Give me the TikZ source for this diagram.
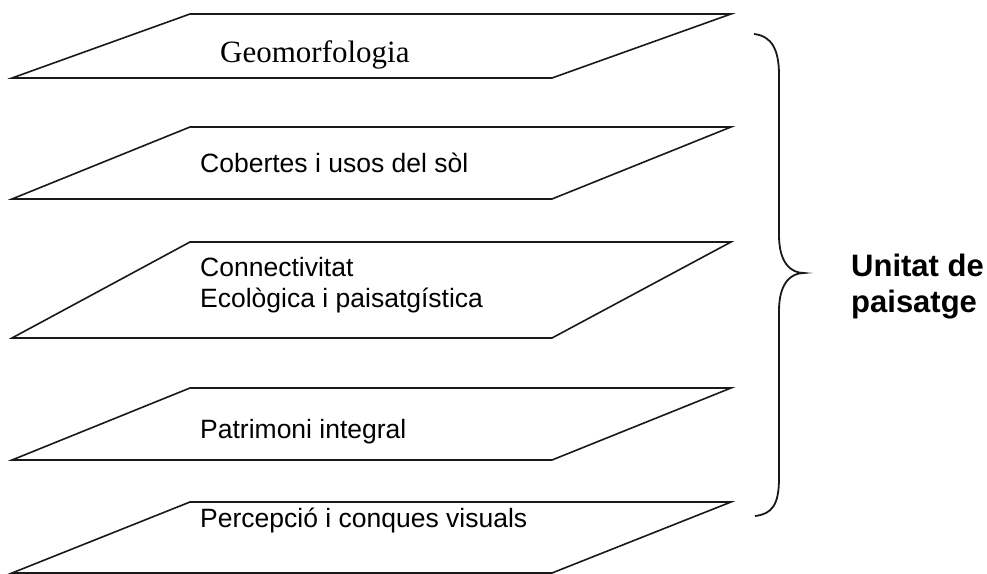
\documentclass[tikz,border=0pt]{standalone}
\usepackage{fontspec}
\setmainfont{Liberation Serif}
\setsansfont{Liberation Sans}
\begin{document}
\begin{tikzpicture}[x=1bp,y=-1bp,
  layer/.style={draw=black!90,line width=1.6bp,line join=miter},
  sanslbl/.style={anchor=base west,inner sep=0pt,font=\sffamily\fontsize{26.5bp}{30bp}\selectfont},
  seriflbl/.style={anchor=base west,inner sep=0pt,font=\rmfamily\fontsize{31bp}{34bp}\selectfont},
  boldlbl/.style={anchor=base west,inner sep=0pt,font=\sffamily\bfseries\fontsize{31bp}{30bp}\selectfont},
  bracestyle/.style={draw=black!90,line width=1.8bp}]
\useasboundingbox (0,0) rectangle (987,574);
% layers
\foreach \n/\t/\b in {1/14/78, 2/127/199, 3/242/338, 4/388/460, 5/502/573}{
  \coordinate (tl\n) at (190,\t);
  \coordinate (tr\n) at (731,\t);
  \coordinate (br\n) at (552,\b);
  \coordinate (bl\n) at (12,\b);
  \draw[layer] (tl\n) -- (tr\n) -- (br\n) -- (bl\n) -- cycle;
}
\node[seriflbl] (geo) at (220,63) {Geomorfologia};
\node[sanslbl] (cob) at (200,173) {Cobertes i usos del sòl};
\node[sanslbl] (con) at (200,277) {Connectivitat};
\node[sanslbl] (eco) at (200,307) {Ecològica i paisatgística};
\node[sanslbl] (pat) at (200,438) {Patrimoni integral};
\node[sanslbl] (per) at (200,527) {Percepció i conques visuals};
% brace
\coordinate (btop) at (754,34);
\coordinate (btip) at (804,273);
\coordinate (bbot) at (755,516);
\draw[bracestyle] (btop) .. controls (772,36) and (779,50) .. (779,75) -- (779,235)
  .. controls (779,262) and (790,273) .. (btip)
  .. controls (790,273) and (779,284) .. (779,311) -- (779,478)
  .. controls (779,505) and (772,514) .. (bbot);
\node[boldlbl] (u1) at (851,277) {Unitat de};
\node[boldlbl] (u2) at (851,312) {paisatge};
\end{tikzpicture}
\end{document}
